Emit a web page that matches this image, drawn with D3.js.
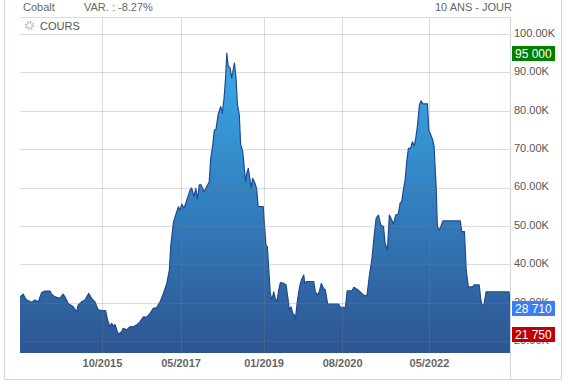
<!DOCTYPE html>
<html>
<head>
<meta charset="utf-8">
<script src="https://cdn.jsdelivr.net/npm/d3@7"></script>
<style>
	body { margin: 0; background: #fff; }
	svg { display: block; font-family: 'Liberation Sans', Arial, sans-serif; }
</style>
</head>
<body>
<svg id="chart" width="577" height="389"></svg>
<script>
// cobalt price, 10 years daily
const dates = [
	'2014-02-06','2014-03-02','2014-03-22','2014-05-03','2014-05-27','2014-06-20','2014-07-15','2014-08-08',
	'2014-09-14','2014-09-26','2014-10-21','2014-11-26','2014-12-20','2015-01-02','2015-01-26','2015-03-04',
	'2015-03-29','2015-04-10','2015-05-05','2015-05-29','2015-06-27','2015-07-17','2015-08-11','2015-09-04',
	'2015-10-03','2015-10-28','2015-11-12','2015-11-29','2015-12-12','2015-12-27','2016-01-05','2016-01-29',
	'2016-02-23','2016-03-06','2016-03-31','2016-04-24','2016-05-19','2016-06-13','2016-07-07','2016-08-01',
	'2016-08-26','2016-09-19','2016-10-13','2016-11-07','2016-12-02','2016-12-26','2017-01-20','2017-02-08',
	'2017-02-18','2017-03-09','2017-03-22','2017-04-16','2017-04-28','2017-05-10','2017-05-27','2017-06-16',
	'2017-07-10','2017-07-22','2017-08-08','2017-08-21','2017-09-02','2017-09-16','2017-09-29','2017-10-21',
	'2017-11-09','2017-11-28','2017-12-09','2017-12-24','2018-01-05','2018-01-17','2018-02-03','2018-02-21',
	'2018-03-04','2018-03-17','2018-03-29','2018-04-06','2018-04-17','2018-04-30','2018-05-12','2018-06-01',
	'2018-06-13','2018-06-23','2018-07-07','2018-07-17','2018-08-01','2018-08-13','2018-08-23','2018-08-31',
	'2018-09-11','2018-09-24','2018-10-01','2018-10-13','2018-10-30','2018-11-11','2018-11-23','2018-12-30',
	'2019-01-19','2019-01-29','2019-02-11','2019-02-20','2019-03-04','2019-03-17','2019-03-29','2019-04-10',
	'2019-04-23','2019-05-05','2019-05-30','2019-06-16','2019-07-01','2019-07-10','2019-07-23','2019-08-04',
	'2019-08-16','2019-08-23','2019-09-05','2019-09-17','2019-09-29','2019-10-11','2019-10-24','2019-10-31',
	'2019-11-12','2020-01-05','2020-01-17','2020-02-03','2020-02-15','2020-03-01','2020-03-18','2020-03-30',
	'2020-04-17','2020-07-07','2020-07-19','2020-08-25','2020-09-07','2020-10-13','2020-10-26','2020-11-19',
	'2020-12-14','2021-01-05','2021-01-30','2021-02-18','2021-03-07','2021-03-24','2021-04-08','2021-04-25',
	'2021-05-12','2021-06-01','2021-06-13','2021-06-30','2021-07-14','2021-08-01','2021-08-13','2021-08-30',
	'2021-09-18','2021-10-01','2021-10-13','2021-10-25','2021-11-07','2021-11-19','2021-12-01','2021-12-18',
	'2021-12-30','2022-01-12','2022-01-24','2022-02-05','2022-02-20','2022-03-04','2022-03-17','2022-04-20',
	'2022-04-30','2022-05-15','2022-05-29','2022-06-08','2022-06-23','2022-07-02','2022-07-17','2022-07-27',
	'2022-08-11','2022-12-17','2022-12-29','2023-01-17','2023-01-30','2023-02-15','2023-03-18','2023-03-28',
	'2023-05-06','2023-05-16','2023-05-26','2023-06-10','2023-06-25','2023-12-11','2023-12-18'
];
const prices = [
	31500,32200,30800,30100,30700,30200,32600,33000,
	33000,32200,31500,31100,32200,31500,29800,28900,
	27600,29400,30200,30700,32400,31100,30200,28100,
	27900,27900,25500,23700,24600,23700,24300,21750,
	22400,23300,22900,23700,23700,24200,25000,26300,
	26200,27200,28500,28700,30200,32400,35000,38500,
	44600,50700,52400,55000,54100,55700,54600,56700,
	59300,59900,57600,59800,57000,60700,60700,58900,
	60200,61500,67600,71100,75000,75200,79300,81100,
	79300,83200,88900,95000,91500,91200,88500,92400,
	88500,81700,78900,71100,69500,65000,61500,63700,
	65000,62000,59800,62400,61100,59800,55000,55000,
	45000,44600,37400,32400,30700,32800,31100,30200,
	33300,35200,35000,34600,30700,28100,28900,27200,
	26800,25500,29800,32800,35000,36300,37200,35000,
	35500,35500,32800,32000,32800,35000,33700,33300,
	29600,29600,28800,28800,33100,33100,34000,33500,
	32700,32000,31700,37200,41100,47200,52000,52800,
	50200,49800,45500,43700,52800,51500,50500,52800,
	53100,55900,56300,59300,62000,66700,70200,70200,
	71900,70800,72800,75800,81500,82600,81800,81800,
	75000,73700,72400,70700,60200,49800,48900,49800,
	51300,51300,48500,48500,38500,34100,34100,34600,
	34600,31100,29400,29400,32800,32800,28710
];
const yTicks = [20000, 30000, 40000, 50000, 60000, 70000, 80000, 90000, 100000];
const xTicks = ['2015-10-01', '2017-05-01', '2019-01-01', '2020-08-01', '2022-05-01'];
const title = 'Cobalt';
const variation = 'VAR. : -8.27%';
const period = '10 ANS - JOUR';
const seriesName = 'COURS';

const parse = d3.timeParse('%Y-%m-%d');
const data = dates.map((d, i) => ({ date: parse(d), value: prices[i] }));

const svg = d3.select('#chart');
const plot = { left: 20, right: 510, top: 17, bottom: 353 };

const x = d3.scaleTime()
	.domain(d3.extent(data, d => d.date))
	.range([plot.left, plot.right]);

const y = d3.scaleLinear()
	.domain([16873, 104430])
	.range([plot.bottom, plot.top]);

// outer frame
svg.append('path')
	.attr('d', 'M4.5,0V379.5H561.5V0')
	.attr('fill', 'none')
	.attr('stroke', '#ccd6e4');

// area gradient
const defs = svg.append('defs');
const grad = defs.append('linearGradient')
	.attr('id', 'areaGradient')
	.attr('gradientUnits', 'userSpaceOnUse')
	.attr('x1', 0).attr('x2', 0)
	.attr('y1', y(100000)).attr('y2', plot.bottom);
grad.append('stop').attr('offset', '0%').attr('stop-color', '#3cb3ec');
grad.append('stop').attr('offset', '45%').attr('stop-color', '#3386c6');
grad.append('stop').attr('offset', '100%').attr('stop-color', '#2e5592');

const area = d3.area()
	.x(d => x(d.date))
	.y0(plot.bottom)
	.y1(d => y(d.value));

const line = d3.line()
	.x(d => x(d.date))
	.y(d => y(d.value));

svg.append('path')
	.datum(data)
	.attr('fill', 'url(#areaGradient)')
	.attr('d', area);

svg.append('path')
	.datum(data)
	.attr('fill', 'none')
	.attr('stroke', '#1d4b90')
	.attr('stroke-width', 1.2)
	.attr('stroke-linejoin', 'round')
	.attr('d', line);

// grid drawn over the area, faint
const grid = svg.append('g').attr('class', 'grid');
grid.selectAll('.hline')
	.data(yTicks)
	.enter()
	.append('line')
	.attr('x1', plot.left).attr('x2', plot.right)
	.attr('y1', d => Math.round(y(d)) + 0.5)
	.attr('y2', d => Math.round(y(d)) + 0.5)
	.attr('stroke', '#7f7f7f')
	.attr('stroke-opacity', 0.27);

grid.selectAll('.vline')
	.data(xTicks.map(parse))
	.enter()
	.append('line')
	.attr('x1', d => Math.round(x(d)) + 0.5)
	.attr('x2', d => Math.round(x(d)) + 0.5)
	.attr('y1', plot.top).attr('y2', plot.bottom)
	.attr('stroke', '#7f7f7f')
	.attr('stroke-opacity', 0.27);

grid.append('line')
	.attr('x1', plot.left).attr('x2', plot.right)
	.attr('y1', plot.top + 0.5).attr('y2', plot.top + 0.5)
	.attr('stroke', '#dcdcdc');

grid.append('line')
	.attr('x1', plot.right + 0.5).attr('x2', plot.right + 0.5)
	.attr('y1', plot.top).attr('y2', 379)
	.attr('stroke', '#ccd6e4');

// x axis
const xAxis = d3.axisBottom(x)
	.tickValues(xTicks.map(parse))
	.tickFormat(d3.timeFormat('%m/%Y'))
	.tickSize(0)
	.tickPadding(6);

const gx = svg.append('g')
	.attr('transform', `translate(0,${plot.bottom})`)
	.call(xAxis);
gx.select('.domain').remove();
gx.selectAll('.tick text')
	.attr('fill', '#666')
	.attr('font-size', 11)
	.attr('font-weight', 'bold')
	.attr('font-family', "'Liberation Sans', Arial, sans-serif");

// y axis on the right
const yAxis = d3.axisRight(y)
	.tickValues(yTicks)
	.tickFormat(d => d3.format('.2f')(d / 1000) + 'K')
	.tickSize(0)
	.tickPadding(5);

const gy = svg.append('g')
	.attr('transform', `translate(${plot.right - 1},0)`)
	.call(yAxis);
gy.select('.domain').remove();
gy.selectAll('.tick text')
	.attr('fill', '#555')
	.attr('font-size', 11)
	.attr('dy', '0.22em')
	.attr('font-family', "'Liberation Sans', Arial, sans-serif");

// value flags: max, last, min
const spaced = v => d3.format(',')(v).replace(/,/g, ' ');
const last = data[data.length - 1];
const flags = [
	{ value: d3.max(prices), color: '#008000' },
	{ value: last.value, color: '#3c7cf5' },
	{ value: d3.min(prices), color: '#c00000' }
];

const flag = svg.selectAll('.flag')
	.data(flags)
	.enter()
	.append('g')
	.attr('class', 'flag')
	.attr('transform', d => `translate(512,${Math.round(y(d.value))})`);
flag.append('rect')
	.attr('x', 0).attr('y', -7)
	.attr('width', 43).attr('height', 15)
	.attr('fill', d => d.color);
flag.append('text')
	.attr('x', 3).attr('y', 4.5)
	.attr('fill', '#fff')
	.attr('font-size', 12)
	.text(d => spaced(d.value));

// header
svg.append('text').attr('x', 23).attr('y', 11)
	.attr('font-size', 11).attr('fill', '#666').text(title);
svg.append('text').attr('x', 84).attr('y', 11)
	.attr('font-size', 11).attr('fill', '#666').text(variation);
svg.append('text').attr('x', 512).attr('y', 11)
	.attr('text-anchor', 'end')
	.attr('font-size', 11).attr('fill', '#666').text(period);

// series label with the little gear
svg.append('circle')
	.attr('cx', 29.5).attr('cy', 25.5).attr('r', 3.6)
	.attr('fill', 'none')
	.attr('stroke', '#c8c8c8')
	.attr('stroke-width', 2.6)
	.attr('stroke-dasharray', '1.6 1.2');
svg.append('circle')
	.attr('cx', 29.5).attr('cy', 25.5).attr('r', 2.6)
	.attr('fill', '#fff')
	.attr('stroke', '#c8c8c8');
svg.append('text').attr('x', 40).attr('y', 30)
	.attr('font-size', 11).attr('fill', '#555').text(seriesName);
</script>
</body>
</html>
